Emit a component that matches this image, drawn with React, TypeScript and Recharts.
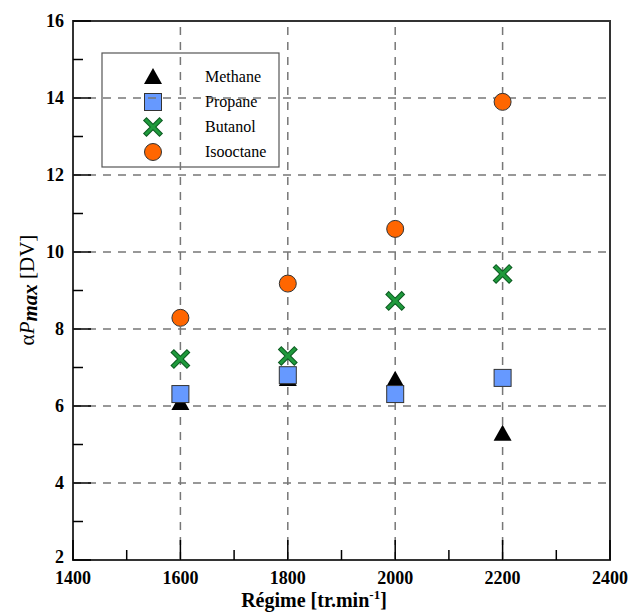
import React from "react";
import {
  ScatterChart,
  Scatter,
  XAxis,
  YAxis,
  ReferenceLine,
  ReferenceArea,
} from "recharts";

const regimes = [1600, 1800, 2000, 2200];
const methane = [6.08, 6.7, 6.68, 5.28];
const propane = [6.31, 6.8, 6.31, 6.73];
const butanol = [7.22, 7.3, 8.73, 9.43];
const isooctane = [8.29, 9.18, 10.6, 13.9];

const xTicks = [1400, 1500, 1600, 1700, 1800, 1900, 2000, 2100, 2200, 2300, 2400];
const yTicks = [2, 3, 4, 5, 6, 7, 8, 9, 10, 11, 12, 13, 14, 15, 16];
const xGrid = [1600, 1800, 2000, 2200];
const yGrid = [4, 6, 8, 10, 12, 14];

const toPoints = (vals: number[]) => regimes.map((r, i) => ({ x: r, y: vals[i] }));

const serif = "'Liberation Serif', 'Times New Roman', serif";

const Triangle = ({ cx, cy }: any) => (
  <polygon
    points={`${cx},${cy - 9} ${cx - 9},${cy + 7} ${cx + 9},${cy + 7}`}
    fill="#000"
  />
);
const Square = ({ cx, cy }: any) => (
  <rect x={cx - 8.5} y={cy - 8.5} width={17} height={17} fill="#6699ff" stroke="#333" strokeWidth={1} />
);
const Cross = ({ cx, cy }: any) => (
  <g>
    <path d={`M${cx - 6.5},${cy - 6.5}L${cx + 6.5},${cy + 6.5}M${cx + 6.5},${cy - 6.5}L${cx - 6.5},${cy + 6.5}`} stroke="#0d5a22" strokeWidth={5} strokeLinecap="square" />
    <path d={`M${cx - 6.5},${cy - 6.5}L${cx + 6.5},${cy + 6.5}M${cx + 6.5},${cy - 6.5}L${cx - 6.5},${cy + 6.5}`} stroke="#1f9a3c" strokeWidth={3} strokeLinecap="square" />
  </g>
);
const Circle = ({ cx, cy }: any) => (
  <circle cx={cx} cy={cy} r={8.5} fill="#ff6600" stroke="#333" strokeWidth={1} />
);

const XTick = ({ x, y, payload }: any) => {
  const major = payload.value % 200 === 0;
  return (
    <g>
      <line x1={x} x2={x} y1={y} y2={y - (major ? 20 : 10)} stroke="#000" strokeWidth={1.5} />
      {major && (
        <text x={x} y={y + 24} textAnchor="middle" fontFamily={serif} fontWeight="bold" fontSize={18} fill="#000">
          {payload.value}
        </text>
      )}
    </g>
  );
};

const YTick = ({ x, y, payload }: any) => {
  const major = payload.value % 2 === 0;
  return (
    <g>
      <line x1={x} x2={x + (major ? 18 : 10)} y1={y} y2={y} stroke="#000" strokeWidth={1.5} />
      {major && (
        <text x={x - 9} y={y + (payload.value === 2 ? 3 : 6)} textAnchor="end" fontFamily={serif} fontWeight="bold" fontSize={18} fill="#000">
          {payload.value}
        </text>
      )}
    </g>
  );
};

const legendItems = [
  { name: "Methane", Shape: Triangle },
  { name: "Propane", Shape: Square },
  { name: "Butanol", Shape: Cross },
  { name: "Isooctane", Shape: Circle },
];

export default function App() {
  return (
    <div style={{ position: "absolute", left: 0, top: 0, width: 629, height: 614, background: "#fff" }}>
      <ScatterChart width={629} height={614} margin={{ top: 21, right: 19, bottom: 0, left: 0 }}>
        <XAxis
          type="number"
          dataKey="x"
          domain={[1400, 2400]}
          ticks={xTicks}
          interval={0}
          tick={<XTick />}
          tickLine={false}
          tickSize={0}
          tickMargin={0}
          axisLine={false}
          height={54}
        />
        <YAxis
          type="number"
          dataKey="y"
          domain={[2, 16]}
          ticks={yTicks}
          interval={0}
          tick={<YTick />}
          tickLine={false}
          tickSize={0}
          tickMargin={0}
          axisLine={false}
          width={73}
        />
        {xGrid.map((v) => (
          <ReferenceLine key={"vx" + v} x={v} stroke="#777" strokeWidth={1.5} strokeDasharray="8 7" />
        ))}
        {yGrid.map((v) => (
          <ReferenceLine key={"hy" + v} y={v} stroke="#777" strokeWidth={1.5} strokeDasharray="8 7" />
        ))}
        <ReferenceArea x1={1400} x2={2400} y1={2} y2={16} fill="none" stroke="#333" strokeWidth={2} />
        <Scatter name="Methane" data={toPoints(methane)} shape={<Triangle />} isAnimationActive={false} />
        <Scatter name="Propane" data={toPoints(propane)} shape={<Square />} isAnimationActive={false} />
        <Scatter name="Butanol" data={toPoints(butanol)} shape={<Cross />} isAnimationActive={false} />
        <Scatter name="Isooctane" data={toPoints(isooctane)} shape={<Circle />} isAnimationActive={false} />
        <g>
          <rect x={102} y={53} width={177} height={114} fill="#fff" stroke="#555" strokeWidth={1.2} />
          {legendItems.map((it, i) => (
            <g key={it.name}>
              <it.Shape cx={153} cy={77 + i * 25} />
              <text x={205} y={82 + i * 25} fontFamily={serif} fontSize={16} fill="#000">
                {it.name}
              </text>
            </g>
          ))}
        </g>
        <text x={314} y={607} textAnchor="middle" fontFamily={serif} fontWeight="bold" fontSize={20} fill="#000">
          Régime [tr.min
          <tspan dy={-8} fontSize={13}>-1</tspan>
          <tspan dy={8}>]</tspan>
        </text>
        <text
          transform="translate(34,290) rotate(-90)"
          textAnchor="middle"
          fontFamily={serif}
          fontSize={21}
          fill="#000"
        >
          α<tspan fontStyle="italic">P</tspan>
          <tspan fontStyle="italic" fontWeight="bold" dy={3}>max</tspan>
          <tspan dy={-3}> [DV]</tspan>
        </text>
      </ScatterChart>
    </div>
  );
}
